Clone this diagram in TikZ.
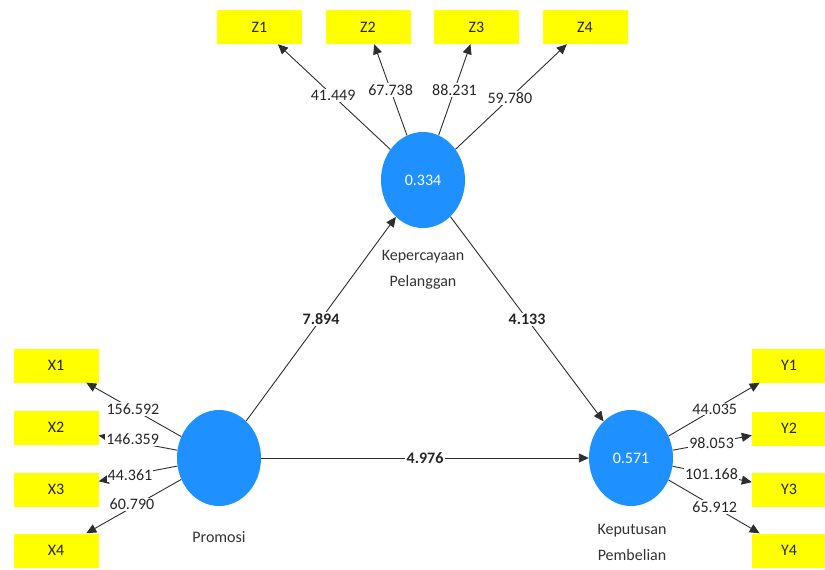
\documentclass[tikz,border=0pt]{standalone}
\usepackage{fontspec}
\setmainfont{Carlito}
\usetikzlibrary{shapes.geometric,arrows.meta,calc}
\definecolor{lvblue}{HTML}{1E90FF}
\definecolor{indyellow}{HTML}{FFFF00}
\definecolor{edgegray}{HTML}{2E2E2E}
\begin{document}
\begin{tikzpicture}[x=1pt,y=-1pt,
  lv/.style={ellipse, fill=lvblue, minimum width=84pt, minimum height=96pt, inner sep=0pt, text=white, font=\fontsize{16}{19}\selectfont},
  ind/.style={rectangle, fill=indyellow, minimum width=85pt, minimum height=34pt, inner sep=0pt, text=black!85, font=\fontsize{16}{19}\selectfont},
  indr/.style={ind, minimum width=74pt},
  con/.style={draw=edgegray, line width=0.9pt, -{Triangle[length=10pt,width=9pt]}},
  lbl/.style={fill=white, inner sep=1.2pt, text=black!85, font=\fontsize{16}{19}\selectfont},
  blbl/.style={lbl, font=\bfseries\fontsize{16}{19}\selectfont},
  lvname/.style={align=center, text=black!80, font=\fontsize{16}{26}\selectfont}
]
\useasboundingbox[fill=white] (0,0) rectangle (825,570);

% latent variables
\node[lv] (K)  at (423,180) {0.334};
\node[lv] (P)  at (219,458) {};
\node[lv] (KP) at (631,458) {0.571};

\node[lvname] (Kname)  at (423,270) {Kepercayaan\\Pelanggan};
\node[lvname] (Pname)  at (219,537) {Promosi};
\node[lvname] (KPname) at (632,542.5) {Keputusan\\Pembelian};

% indicators
\node[ind] (Z1) at (259.5,27) {Z1};
\node[ind] (Z2) at (368,27) {Z2};
\node[ind] (Z3) at (476.5,27) {Z3};
\node[ind] (Z4) at (585,27) {Z4};

\node[ind] (X1) at (56,365.5) {X1};
\node[ind] (X2) at (56,427.5) {X2};
\node[ind] (X3) at (56,489.5) {X3};
\node[ind] (X4) at (56,550.5) {X4};

\node[indr] (Y1) at (789,365.5) {Y1};
\node[indr] (Y2) at (789,428.5) {Y2};
\node[indr] (Y3) at (789,489.5) {Y3};
\node[indr] (Y4) at (789,550.5) {Y4};

% connectors
\draw[con] (K) -- (Z1);
\draw[con] (K) -- (Z2);
\draw[con] (K) -- (Z3);
\draw[con] (K) -- (Z4);

\draw[con] (P) -- (X1);
\draw[con] (P) -- (X2);
\draw[con] (P) -- (X3);
\draw[con] (P) -- (X4);

\draw[con] (KP) -- (Y1);
\draw[con] (KP) -- (Y2);
\draw[con] (KP) -- (Y3);
\draw[con] (KP) -- (Y4);

\draw[con] (P) -- (K);
\draw[con] (K) -- (KP);
\draw[con] (P) -- (KP);

% labels
\node[lbl] at ($(K)!0.55!(Z1)$) {41.449};
\node[lbl] at ($(K)!0.588!(Z2)$) {67.738};
\node[lbl] at ($(K)!0.588!(Z3)$) {88.231};
\node[lbl] at ($(K)!0.536!(Z4)$) {59.780};

\node[lbl] at ($(P)!0.528!(X1)$) {156.592};
\node[lbl] at ($(P)!0.53!(X2)+(0,-3)$) {146.359};
\node[lbl] at ($(P)!0.546!(X3)$) {44.361};
\node[lbl] at ($(P)!0.534!(X4)+(0,-3)$) {60.790};

\node[lbl] at ($(KP)!0.53!(Y1)$) {44.035};
\node[lbl] at ($(KP)!0.51!(Y2)$) {98.053};
\node[lbl] at ($(KP)!0.51!(Y3)$) {101.168};
\node[lbl] at ($(KP)!0.53!(Y4)$) {65.912};

\node[blbl] at ($(P)!0.5!(K)$) {7.894};
\node[blbl] at ($(K)!0.5!(KP)$) {4.133};
\node[blbl] at ($(P)!0.5!(KP)$) {4.976};
\end{tikzpicture}
\end{document}
